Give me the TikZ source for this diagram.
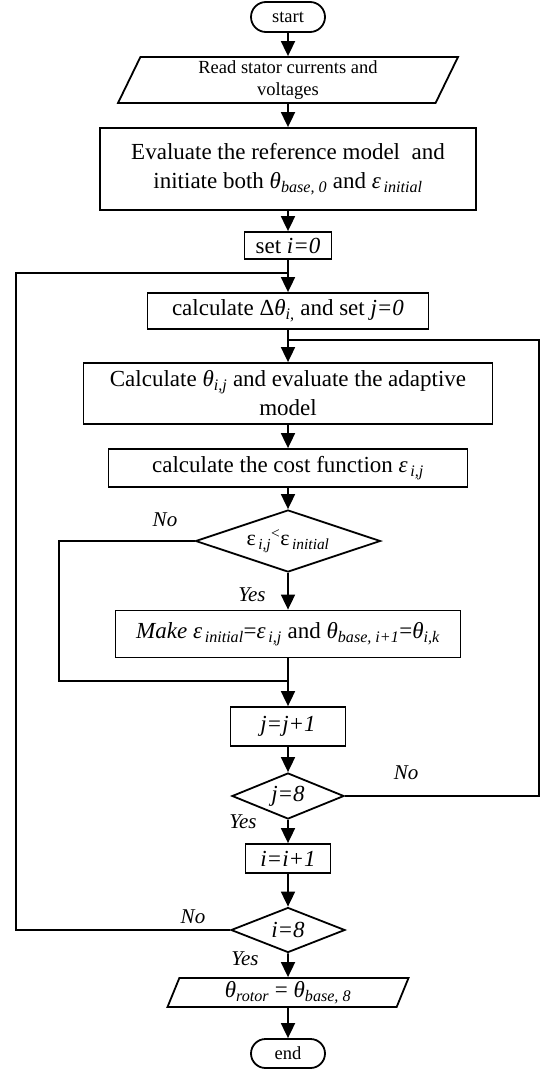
\documentclass[tikz,border=0pt]{standalone}
\usepackage{fontspec}
\setmainfont{Liberation Serif}
\usetikzlibrary{shapes.geometric,shapes.misc,arrows.meta}
\newcommand{\tht}{\textit{θ}}
\newcommand{\epsi}{\textit{ε}}
\newcommand{\subit}[1]{\textsubscript{\itshape #1}}

\begin{document}
\begin{tikzpicture}[x=10pt,y=-10pt,line width=1.8pt,
	>={Triangle[width=14pt,length=15pt]},
	box/.style={draw,rectangle,inner sep=0pt,align=center,font=\fontsize{23}{29}\selectfont},
	term/.style={draw,rounded rectangle,inner sep=0pt,minimum width=74pt,minimum height=30pt,font=\fontsize{18.5}{20}\selectfont},
	io/.style={draw,trapezium,trapezium left angle=60,trapezium right angle=120,trapezium stretches body,inner sep=0pt,align=center},
	dec/.style={draw,diamond,aspect=3,inner sep=0pt,font=\fontsize{23}{26}\selectfont},
	lbl/.style={font=\fontsize{21}{23}\selectfont\itshape}]
		\useasboundingbox (0,0) rectangle (54.5,107);
		\node[term] (start) at (28.8,1.7) {start};
		\node[io,minimum width=340pt,minimum height=46pt,font=\fontsize{18.5}{22}\selectfont] (read) at (28.8,8.0) {Read stator currents and\\voltages};
		\node[box,minimum width=376pt,minimum height=82pt] (eval) at (28.8,16.9) {Evaluate the reference model\ \ and\\initiate both \tht\subit{base, 0} and \epsi\subit{\,initial}};
		\node[box,minimum width=87pt,minimum height=27pt] (seti) at (28.8,24.55) {set \textit{i=0}};
		\node[box,minimum width=281pt,minimum height=36pt] (delta) at (28.8,31.1) {calculate Δ\tht\subit{i,} and set \textit{j=0}};
		\node[box,minimum width=409pt,minimum height=61pt] (calc) at (28.8,39.35) {Calculate \tht\subit{i,j} and evaluate the adaptive\\model};
		\node[box,minimum width=359pt,minimum height=38pt] (cost) at (28.8,46.8) {calculate the cost function \epsi\subit{\,i,j}};
		\node[dec,minimum width=185pt,minimum height=62pt,font=\fontsize{22}{24}\selectfont] (cmp) at (28.8,54.1) {ε\subit{\,i,j}\textsuperscript{<}ε\subit{\,initial}};
		\node[box,minimum width=345pt,minimum height=47pt] (make) at (28.8,63.4) {\textit{Make} \epsi\subit{\,initial}=\epsi\subit{\,i,j} and \tht\subit{base, i+1}=\tht\subit{i,k}};
		\node[box,minimum width=115pt,minimum height=39pt] (jinc) at (28.8,72.65) {\textit{j=j+1}};
		\node[dec,minimum width=112pt,minimum height=46pt] (jchk) at (28.8,79.6) {\textit{j=8}};
		\node[box,minimum width=85pt,minimum height=29pt] (iinc) at (28.8,85.85) {\textit{i=i+1}};
		\node[dec,minimum width=114pt,minimum height=45pt] (ichk) at (28.8,93.0) {\textit{i=8}};
		\node[io,trapezium left angle=62,trapezium right angle=118,minimum width=241pt,minimum height=29pt,font=\fontsize{23}{26}\selectfont] (out) at (28.8,99.25) {\tht\subit{rotor} = \tht\subit{base, 8}};
		\node[term,minimum height=29pt] (end) at (28.8,105.35) {end};
		% main flow
		\draw[->] (start) -- (read);
		\draw[->] (read) -- (eval);
		\draw[->] (eval) -- (seti);
		\draw[->] (seti) -- (delta);
		\draw[->] (delta) -- (calc);
		\draw[->] (calc) -- (cost);
		\draw[->] (cost) -- (cmp);
		\draw[->] (cmp) -- (make);
		\draw[->] (make) -- (jinc);
		\draw[->] (jinc) -- (jchk);
		\draw[->] (jchk) -- (iinc);
		\draw[->] (iinc) -- (ichk);
		\draw[->] (ichk) -- (out);
		\draw[->] (out) -- (end);
		% loops back
		\coordinate (iback) at (1.6,27.3);
		\coordinate (jback) at (53.9,34.0);
		\coordinate (skip) at (5.9,68.1);
		\draw (ichk.west) -| (iback) -- (iback -| delta.north);
		\draw (jchk.east) -| (jback) -- (jback -| calc.north);
		\draw (cmp.west) -| (skip) -- (skip -| jinc.north);
		% branch labels
		\node[lbl] (no1) at (16.5,52.0) {No};
		\node[lbl] (yes1) at (25.2,59.5) {Yes};
		\node[lbl] (no2) at (40.6,77.3) {No};
		\node[lbl] (yes2) at (24.3,82.2) {Yes};
		\node[lbl] (no3) at (19.3,91.7) {No};
		\node[lbl] (yes3) at (24.5,95.9) {Yes};
\end{tikzpicture}
\end{document}
